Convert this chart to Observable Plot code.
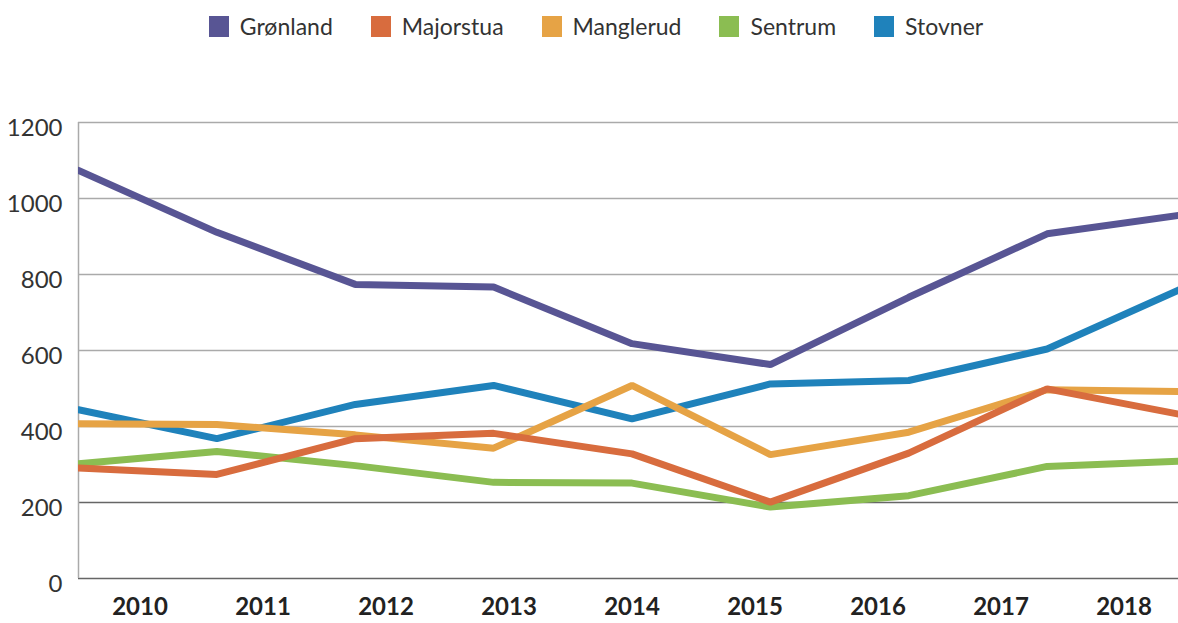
<!DOCTYPE html>
<html>
<head>
<meta charset="utf-8">
<script src="https://cdn.jsdelivr.net/npm/d3@7"></script>
<script src="https://cdn.jsdelivr.net/npm/@observablehq/plot@0.6"></script>
<style>
  body { margin: 0; background: #fff; font-family: Lato, sans-serif; }
  #legend { height: 60px; display: flex; justify-content: center; align-items: flex-start; padding-left: 14px; box-sizing: border-box; padding-top: 12px; }
  .item { display: flex; align-items: center; margin: 0 19px; font-size: 23px; color: #333; }
  .sw { width: 20px; height: 21px; margin-right: 11px; }
  #chart svg { display: block; }
</style>
</head>
<body>
<div id="legend"></div>
<div id="chart"></div>
<script>
const years = [2010, 2011, 2012, 2013, 2014, 2015, 2016, 2017, 2018];
const names = ["Grønland", "Majorstua", "Manglerud", "Sentrum", "Stovner"];
const colors = ["#585594", "#d86c3e", "#e6a345", "#8bbd52", "#1f82bb"];
const gronland  = [1074, 911, 774, 767, 618, 563, 740, 907, 958];
const majorstua = [291, 274, 368, 382, 328, 201, 330, 499, 429];
const manglerud = [407, 405, 378, 343, 508, 326, 385, 497, 492];
const sentrum   = [302, 334, 297, 253, 251, 188, 218, 295, 309];
const stovner   = [444, 368, 458, 508, 420, 512, 521, 604, 767];
const yTicks = [0, 200, 400, 600, 800, 1000, 1200];

const valuesBySeries = [gronland, majorstua, manglerud, sentrum, stovner];
// draw order: later on top
const drawOrder = [4, 3, 2, 0, 1];
const rows = drawOrder.flatMap(s => valuesBySeries[s].map((v, i) => ({
  name: names[s], pos: i * 9 / 8, value: v
})));

const legend = document.getElementById("legend");
names.forEach((n, i) => {
  const it = document.createElement("div");
  it.className = "item";
  it.innerHTML = `<div class="sw" style="background:${colors[i]}"></div><span>${n}</span>`;
  legend.appendChild(it);
});

const chart = Plot.plot({
  width: 1178,
  height: 563,
  marginLeft: 78,
  marginRight: 0,
  marginTop: 62,
  marginBottom: 45,
  style: { fontFamily: 'Lato, sans-serif', color: "#333", background: "#fff" },
  x: { domain: [0, 9], range: [78, 1185], axis: null },
  y: { domain: [0, 1200], axis: null },
  color: { domain: names, range: colors },
  marks: [
    Plot.ruleY(yTicks.filter(t => t >= 400), { stroke: "#aaa", strokeWidth: 1.5 }),
    Plot.ruleY(yTicks.filter(t => t < 400), { stroke: "#666", strokeWidth: 1.5 }),
    Plot.ruleX([0], { y1: 0, y2: 1200, stroke: "#aaa", strokeWidth: 1.5 }),
    Plot.axisY({ ticks: yTicks, tickFormat: d => String(d), label: null, tickSize: 0, tickPadding: 16, fontSize: 24, dy: 6, fill: "#333" }),
    Plot.axisX({
      ticks: years.map((y, i) => i + 0.5),
      tickFormat: v => String(years[Math.round(v - 0.5)]),
      label: null,
      tickSize: 0, tickPadding: 19, fontSize: 24, fontWeight: "bold", fill: "#222"
    }),
    Plot.line(rows, { x: "pos", y: "value", z: "name", stroke: "name", strokeWidth: 7, clip: "frame", strokeLinejoin: "miter" })
  ]
});
document.getElementById("chart").appendChild(chart);
</script>
</body>
</html>
